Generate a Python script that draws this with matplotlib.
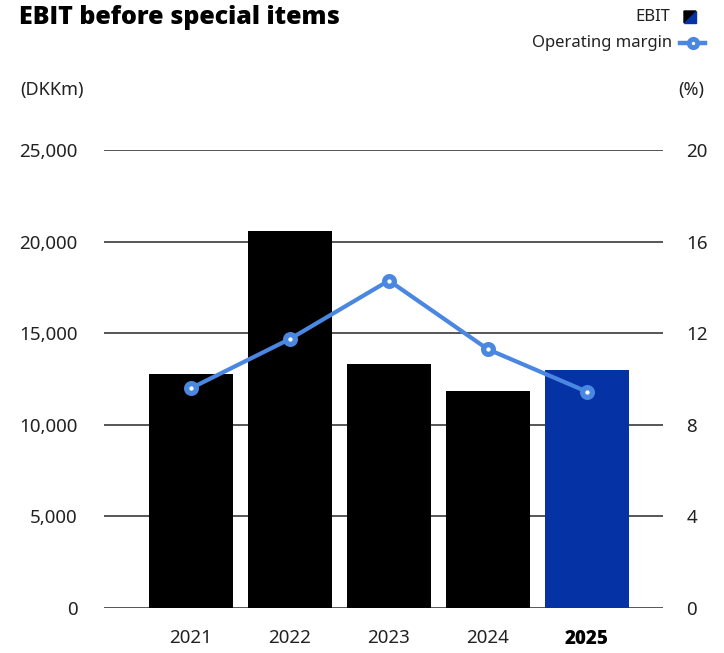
import matplotlib.pyplot as plt
from matplotlib.patches import Polygon
from matplotlib.lines import Line2D

plt.rcParams['font.family'] = ['Noto Sans', 'DejaVu Sans']

years = ["2021", "2022", "2023", "2024", "2025"]
ebit = [12800, 20600, 13300, 11850, 13000]
margin = [9.6, 11.75, 14.3, 11.3, 9.45]

black = "#000000"
blue_bar = "#0533A6"
blue_line = "#4A87E0"
grid_col = "#3a3a3a"
txt = "#222222"

fig = plt.figure(figsize=(7.24, 6.53), dpi=100)
ax = fig.add_axes([0.1436, 0.0689, 0.7721, 0.7013])

x = list(range(len(years)))
colors = [black] * 4 + [blue_bar]
ax.bar(x, ebit, width=0.85, color=colors, zorder=2)
ax.set_xlim(-0.88, 4.77)
ax.set_ylim(0, 25000)
ax.set_yticks([0, 5000, 10000, 15000, 20000, 25000])
ax.set_yticklabels(["0", "5,000", "10,000", "15,000", "20,000", "25,000"])
ax.yaxis.grid(True, color=grid_col, linewidth=1.2, zorder=1)
ax.set_axisbelow(True)
for s in ax.spines.values():
    s.set_visible(False)
ax.tick_params(axis="y", length=0, pad=19, labelsize=13.5, labelcolor=txt)
ax.tick_params(axis="x", length=0, pad=15, labelsize=13.5, labelcolor=txt)
ax.set_xticks(x)
ax.set_xticklabels(years)
last = ax.get_xticklabels()[-1]
last.set_fontfamily(["Open Sans", "DejaVu Sans"])
last.set_fontweight("heavy")
last.set_color("#000000")

ax2 = ax.twinx()
ax2.set_ylim(0, 20)
ax2.set_yticks([0, 4, 8, 12, 16, 20])
for s in ax2.spines.values():
    s.set_visible(False)
ax2.tick_params(axis="y", length=0, pad=17, labelsize=13.5, labelcolor=txt)
ax2.plot(x, margin, color=blue_line, linewidth=3, marker="o", markersize=7,
         markerfacecolor="white", markeredgecolor=blue_line, markeredgewidth=3.8, zorder=3)

# title and axis units
fig.text(19 / 724, 1 - 17 / 653, "EBIT before special items", fontsize=18,
         family=["Open Sans", "DejaVu Sans"], fontweight="heavy", va="center", ha="left")
fig.text(20 / 724, 1 - 90 / 653, "(DKKm)", fontsize=13, va="center", ha="left", color=txt)
fig.text(704 / 724, 1 - 90 / 653, "(%)", fontsize=13, va="center", ha="right", color=txt)

# legend
fig.text(670 / 724, 1 - 17 / 653, "EBIT", fontsize=12, va="center", ha="right", color=txt)
fig.text(672 / 724, 1 - 43 / 653, "Operating margin", fontsize=12, va="center", ha="right", color=txt)

def px(xp, yp):
    return (xp / 724, 1 - yp / 653)

x0, y0, sz = 684, 11, 12
fig.add_artist(Polygon([px(x0, y0), px(x0 + sz, y0), px(x0, y0 + sz)],
                       closed=True, color=black, transform=fig.transFigure))
fig.add_artist(Polygon([px(x0 + sz, y0), px(x0 + sz, y0 + sz), px(x0, y0 + sz)],
                       closed=True, color=blue_bar, transform=fig.transFigure))
lx = [680 / 724, 705 / 724]
ly = [1 - 43 / 653] * 2
fig.add_artist(Line2D(lx, ly, color=blue_line, linewidth=3.2, transform=fig.transFigure))
fig.add_artist(Line2D([692.5 / 724], [1 - 43 / 653], marker="o", markersize=6,
                      markerfacecolor="white", markeredgecolor=blue_line,
                      markeredgewidth=3.5, transform=fig.transFigure))

fig.savefig("out.png", dpi=100, facecolor="white")
